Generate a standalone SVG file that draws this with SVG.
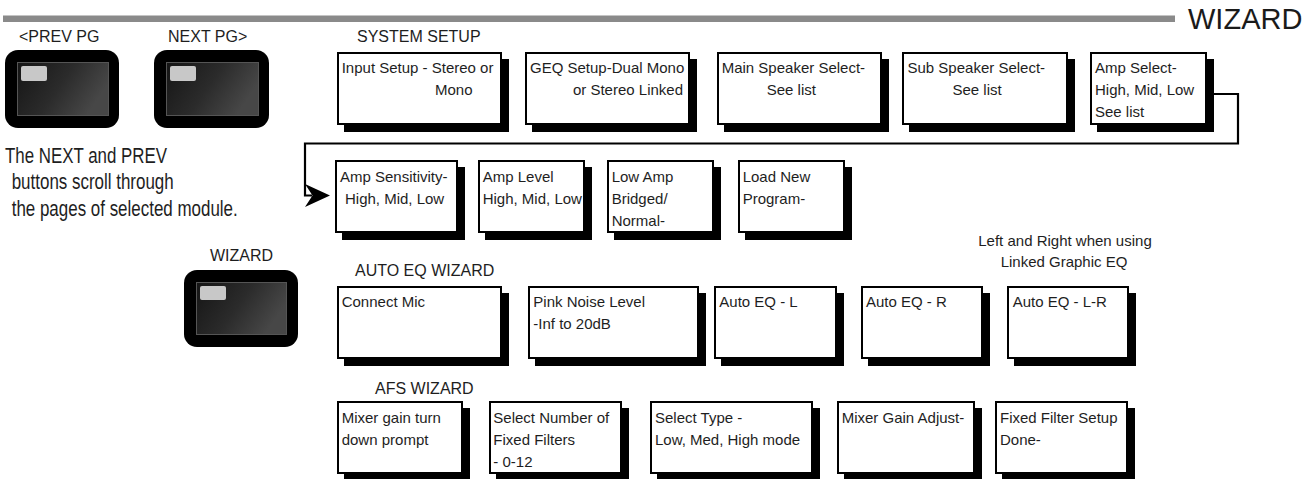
<svg xmlns="http://www.w3.org/2000/svg" width="1315" height="479" viewBox="0 0 1315 479">
<defs>
<linearGradient id="btnFace" x1="0" y1="0" x2="1" y2="0.4">
<stop offset="0" stop-color="#151515"/>
<stop offset="0.55" stop-color="#2b2b2b"/>
<stop offset="1" stop-color="#474747"/>
</linearGradient>
<style>
.t{font-family:"Liberation Sans",Arial,sans-serif;font-size:15px;fill:#1e1e1e}
.h{font-family:"Liberation Sans",Arial,sans-serif;font-size:16px;fill:#1e1e1e}
.d{font-family:"Liberation Sans",Arial,sans-serif;font-size:22px;fill:#1e1e1e}
.sh{fill:#000}
.bx{fill:#fff;stroke:#000;stroke-width:2}
.outer{fill:#000}
.face{fill:url(#btnFace);stroke:#555;stroke-width:1}
.lamp{fill:#c8c8c8}
.conn{fill:none;stroke:#000;stroke-width:2.2}
</style>
</defs>
<rect x="0" y="0" width="1315" height="479" fill="#fff"/>

<!-- header -->
<g id="header">
<rect x="3" y="15.5" width="1172" height="6.5" fill="#8a8a8a"/>
<text x="1188" y="28.5" style="font-family:'Liberation Sans',Arial,sans-serif;font-size:29px;fill:#1a1a1a">WIZARD</text>
</g>

<!-- buttons -->
<g id="btn-prev">
<text class="h" x="19" y="41.5">&lt;PREV PG</text>
<rect class="outer" x="5" y="50" width="114" height="78" rx="13"/>
<rect class="face" x="17.5" y="62.5" width="91" height="53"/>
<rect class="lamp" x="21" y="66" width="26" height="15" rx="2"/>
</g>
<g id="btn-next">
<text class="h" x="168" y="41.5">NEXT PG&gt;</text>
<rect class="outer" x="154" y="50" width="115" height="78" rx="13"/>
<rect class="face" x="166.5" y="62.5" width="92" height="53"/>
<rect class="lamp" x="170" y="66" width="26" height="15" rx="2"/>
</g>
<g id="btn-wizard">
<text class="h" x="210" y="261">WIZARD</text>
<rect class="outer" x="184" y="270" width="114" height="77" rx="13"/>
<rect class="face" x="196.5" y="282.5" width="90" height="52"/>
<rect class="lamp" x="200" y="286" width="26" height="14" rx="2"/>
</g>

<g id="description">
<text class="d" x="5" y="162.5" textLength="162" lengthAdjust="spacingAndGlyphs">The NEXT and PREV</text>
<text class="d" x="11.7" y="189" textLength="162" lengthAdjust="spacingAndGlyphs">buttons scroll through</text>
<text class="d" x="11.7" y="215.5" textLength="226" lengthAdjust="spacingAndGlyphs">the pages of selected module.</text>
</g>

<!-- section headings -->
<g id="headings">
<text class="h" x="357" y="42">SYSTEM SETUP</text>
<text class="h" x="355" y="276">AUTO EQ WIZARD</text>
<text class="h" x="375" y="393.5">AFS WIZARD</text>
<text class="t" x="1065" y="246" text-anchor="middle">Left and Right when using</text>
<text class="t" x="1064" y="267" text-anchor="middle">Linked Graphic EQ</text>
</g>

<!-- connectors -->
<g id="connectors">
<polyline class="conn" points="1207,94 1238,94 1238,143.5 305,143.5 305,195.5 312,195.5"/>
<polygon points="305,184 330,195.5 305,207 312.5,195.5" fill="#000"/>
</g>

<!-- SYSTEM SETUP row -->
<g id="input-setup">
<rect class="sh" x="344" y="59" width="165" height="73"/>
<rect class="bx" x="338" y="53" width="163" height="71"/>
<text class="t" x="341.7" y="73">Input Setup - Stereo or</text>
<text class="t" x="435" y="95">Mono</text>
</g>
<g id="geq-setup">
<rect class="sh" x="532" y="59" width="165" height="73"/>
<rect class="bx" x="526" y="53" width="163" height="71"/>
<text class="t" x="530" y="73">GEQ Setup-Dual Mono</text>
<text class="t" x="683" y="95" text-anchor="end">or Stereo Linked</text>
</g>
<g id="main-speaker">
<rect class="sh" x="724" y="59" width="165" height="73"/>
<rect class="bx" x="718" y="53" width="163" height="71"/>
<text class="t" x="721.7" y="73">Main Speaker Select-</text>
<text class="t" x="766.7" y="95">See list</text>
</g>
<g id="sub-speaker">
<rect class="sh" x="909" y="59" width="166" height="73"/>
<rect class="bx" x="903" y="53" width="164" height="71"/>
<text class="t" x="907.5" y="73">Sub Speaker Select-</text>
<text class="t" x="952.5" y="95">See list</text>
</g>
<g id="amp-select">
<rect class="sh" x="1097" y="59" width="117" height="73"/>
<rect class="bx" x="1091" y="53" width="115" height="71"/>
<text class="t" x="1095" y="73">Amp Select-</text>
<text class="t" x="1095" y="95">High, Mid, Low</text>
<text class="t" x="1095" y="117">See list</text>
</g>

<!-- second row -->
<g id="amp-sensitivity">
<rect class="sh" x="342" y="167" width="123" height="73"/>
<rect class="bx" x="336" y="161" width="121" height="71"/>
<text class="t" x="340" y="182">Amp Sensitivity-</text>
<text class="t" x="345" y="204">High, Mid, Low</text>
</g>
<g id="amp-level">
<rect class="sh" x="485" y="167" width="107" height="73"/>
<rect class="bx" x="479" y="161" width="105" height="71"/>
<text class="t" x="482.7" y="182">Amp Level</text>
<text class="t" x="482.7" y="204">High, Mid, Low</text>
</g>
<g id="low-amp">
<rect class="sh" x="614" y="167" width="107" height="73"/>
<rect class="bx" x="608" y="161" width="105" height="71"/>
<text class="t" x="611.7" y="182">Low Amp</text>
<text class="t" x="611.7" y="204">Bridged/</text>
<text class="t" x="611.7" y="226">Normal-</text>
</g>
<g id="load-new">
<rect class="sh" x="745" y="167" width="107" height="73"/>
<rect class="bx" x="739" y="161" width="105" height="71"/>
<text class="t" x="742.7" y="182">Load New</text>
<text class="t" x="742.7" y="204">Program-</text>
</g>

<!-- AUTO EQ row -->
<g id="connect-mic">
<rect class="sh" x="344" y="293" width="165" height="73"/>
<rect class="bx" x="338" y="287" width="163" height="71"/>
<text class="t" x="341.7" y="306.5">Connect Mic</text>
</g>
<g id="pink-noise">
<rect class="sh" x="535" y="293" width="171" height="73"/>
<rect class="bx" x="529" y="287" width="169" height="71"/>
<text class="t" x="533.3" y="306.5">Pink Noise Level</text>
<text class="t" x="533.3" y="328.5">-Inf to 20dB</text>
</g>
<g id="auto-eq-l">
<rect class="sh" x="721" y="293" width="123" height="73"/>
<rect class="bx" x="715" y="287" width="121" height="71"/>
<text class="t" x="719.3" y="306.5">Auto EQ - L</text>
</g>
<g id="auto-eq-r">
<rect class="sh" x="868" y="293" width="122" height="73"/>
<rect class="bx" x="862" y="287" width="120" height="71"/>
<text class="t" x="866" y="306.5">Auto EQ - R</text>
</g>
<g id="auto-eq-lr">
<rect class="sh" x="1014" y="293" width="122" height="73"/>
<rect class="bx" x="1008" y="287" width="120" height="71"/>
<text class="t" x="1012.7" y="306.5">Auto EQ - L-R</text>
</g>

<!-- AFS row -->
<g id="mixer-gain-prompt">
<rect class="sh" x="344" y="408" width="126" height="73"/>
<rect class="bx" x="338" y="402" width="124" height="71"/>
<text class="t" x="341.7" y="423">Mixer gain turn</text>
<text class="t" x="341.7" y="445">down prompt</text>
</g>
<g id="select-number">
<rect class="sh" x="496" y="408" width="133" height="73"/>
<rect class="bx" x="490" y="402" width="131" height="71"/>
<text class="t" x="493.3" y="423">Select Number of</text>
<text class="t" x="493.3" y="445">Fixed Filters</text>
<text class="t" x="493.3" y="467">- 0-12</text>
</g>
<g id="select-type">
<rect class="sh" x="657" y="408" width="163" height="73"/>
<rect class="bx" x="651" y="402" width="161" height="71"/>
<text class="t" x="655" y="423">Select Type -</text>
<text class="t" x="655" y="445">Low, Med, High mode</text>
</g>
<g id="mixer-gain-adjust">
<rect class="sh" x="844" y="408" width="138" height="73"/>
<rect class="bx" x="838" y="402" width="136" height="71"/>
<text class="t" x="841.7" y="423">Mixer Gain Adjust-</text>
</g>
<g id="fixed-filter">
<rect class="sh" x="1002" y="408" width="133" height="73"/>
<rect class="bx" x="996" y="402" width="131" height="71"/>
<text class="t" x="1000" y="423">Fixed Filter Setup</text>
<text class="t" x="1000" y="445">Done-</text>
</g>
</svg>
